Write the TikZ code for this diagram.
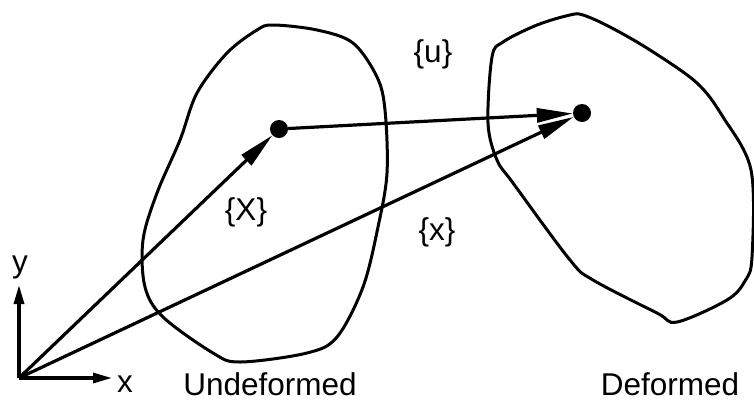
\documentclass[tikz,border=0pt]{standalone}
\usepackage{fontspec}
\setmainfont{Liberation Sans}
\usetikzlibrary{arrows.meta}
\begin{document}
\begin{tikzpicture}[x=1pt,y=-1pt,
  blob/.style={line width=3pt, smooth cycle, tension=0.55},
  vec/.style={line width=3.2pt, -{Triangle[length=36pt,width=14pt]}},
  axis/.style={line width=3.2pt, -{Triangle[length=19pt,width=10pt]}},
  dot/.style={circle, fill=black, inner sep=0pt, minimum size=18pt},
  lbl/.style={inner sep=0pt, anchor=base, font=\fontsize{31.5}{36}\selectfont}]
\useasboundingbox (0,0) rectangle (754,400);
% bodies
\draw[blob] plot coordinates {(273,25) (317,30) (353,43) (377,77) (385,110) (387,173) (378,227) (363,287) (337,337) (307,353) (240,362) (213,353) (163,317) (145,287) (143,240) (157,193) (180,140) (197,93) (227,53) (257,30)};
\draw[blob] plot coordinates {(583,15) (610,27) (650,50) (697,83) (723,117) (751,170) (752,257) (745,281) (727,300) (677,322) (657,313) (593,280) (570,260) (513,183) (497,160) (488,123) (492,57) (503,42) (537,25) (570,15)};
% points
\coordinate (O) at (19,378);
\coordinate (xe) at (112,378);
\coordinate (ye) at (19,285);
\node[dot] (P) at (279,129) {};
\node[dot] (Q) at (582,113) {};
% axes
\draw[axis] (O) -- (xe);
\draw[axis] (O) -- (ye);
% vectors
\draw[vec] (O) -- (P);
\draw[vec] (O) -- (Q);
\draw[vec] (P) -- (Q);
% labels
\node[lbl] (ly) at (20,272) {y};
\node[lbl] (lx) at (125,392) {x};
\node[lbl] (lu) at (433,62) {\{u\}};
\node[lbl] (lX) at (246,220) {\{X\}};
\node[lbl] (lxx) at (437,240) {\{x\}};
\node[lbl] (lund) at (270,395) {Undeformed};
\node[lbl] (ldef) at (670,395) {Deformed};
\end{tikzpicture}
\end{document}
